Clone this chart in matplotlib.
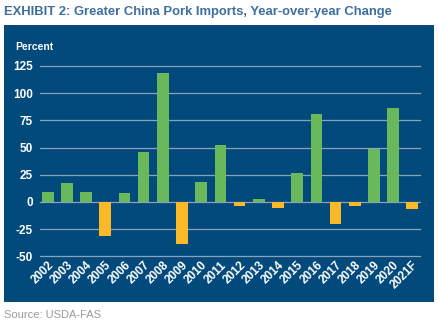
import matplotlib
matplotlib.use("Agg")
import matplotlib.pyplot as plt

# data
years = ["2002", "2003", "2004", "2005", "2006", "2007", "2008", "2009", "2010", "2011",
         "2012", "2013", "2014", "2015", "2016", "2017", "2018", "2019", "2020", "2021F"]
change_pct = [9, 17, 9, -31, 8, 46, 119, -39, 18, 52,
              -4, 3, -5.5, 26.5, 81, -20, -4, 49, 86, -6.5]
y_ticks = [-50, -25, 0, 25, 50, 75, 100, 125]

BG = "#02497c"
GREEN = "#6ab85c"
ORANGE = "#fbb829"
GRID = "#8aa3bd"
TITLE_C = "#3d6e9e"
FONT = "Liberation Sans"

W, H = 439, 325
fig = plt.figure(figsize=(W / 100, H / 100), dpi=100)
fig.patch.set_facecolor("white")

# dark blue panel behind the chart
bg = fig.add_axes([4 / W, 1 - 302 / H, 430 / W, (302 - 25) / H], zorder=0)
bg.set_facecolor(BG)
bg.set_xticks([])
bg.set_yticks([])
for s in bg.spines.values():
    s.set_visible(False)

title = fig.text(4 / W, 1 - 12 / H, "EXHIBIT 2: Greater China Pork Imports, Year-over-year Change",
                 color=TITLE_C, ha="left", va="center", family=FONT,
                 fontweight="bold", fontsize=10)
# shrink the title so it spans the same width as in the original (~389 px)
renderer = fig.canvas.get_renderer()
w = title.get_window_extent(renderer).width
title.set_fontsize(10 * 389 / w)

fig.text(4 / W, 1 - 315 / H, "Source: USDA-FAS", fontsize=8, color="#9a9a9a",
         family=FONT, ha="left", va="center")
fig.text(15 / W, 1 - 47 / H, "Percent", color="white", ha="left", va="center",
         family=FONT, fontweight="bold", fontsize=7.5, zorder=5)

top_px, bot_px = 66, 256.3
ax = fig.add_axes([40 / W, 1 - bot_px / H, 380 / W, (bot_px - top_px) / H], zorder=1)
ax.set_facecolor("none")

x = list(range(len(years)))
colors = [GREEN if v >= 0 else ORANGE for v in change_pct]
ax.bar(x, change_pct, width=0.61, color=colors, zorder=3)

for v in y_ticks:
    ax.axhline(v, color=GRID, linewidth=0.9, zorder=1, clip_on=False)

ax.set_xlim(-0.4, len(years) - 0.6)
ax.set_ylim(-50, 125)
ax.set_yticks(y_ticks)
ax.set_yticklabels([str(v) for v in y_ticks], color="white", family=FONT,
                   fontweight="bold", fontsize=8.5)
ax.set_xticks(x)
ax.set_xticklabels(years, rotation=45, ha="right", rotation_mode="anchor",
                   color="white", family=FONT, fontweight="bold", fontsize=8.5)
ax.tick_params(axis="y", length=0, pad=5)
ax.tick_params(axis="x", length=0, pad=2)
for s in ax.spines.values():
    s.set_visible(False)

fig.savefig("out.png", dpi=100)
